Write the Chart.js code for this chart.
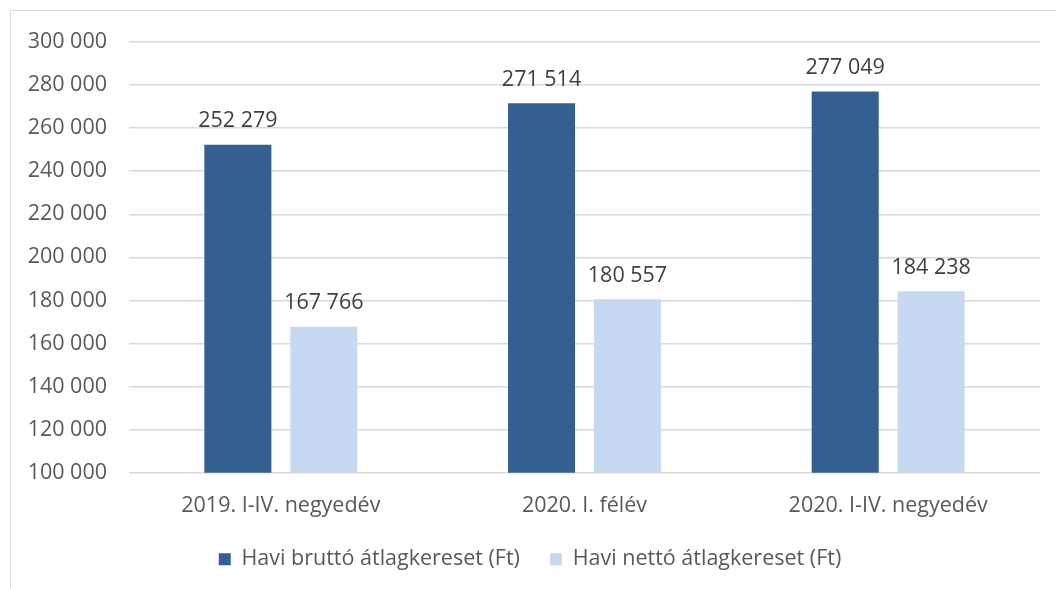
<!DOCTYPE html>
<html>
<head>
<meta charset="utf-8">
<script src="https://cdn.jsdelivr.net/npm/chart.js@4"></script>
<style>
  html, body { margin: 0; padding: 0; background: #fff; overflow: hidden; }
  #frame { position: absolute; left: 10px; top: 10px; width: 1100px; height: 640px; border: 1.5px solid #d9d9d9; }
  #wrap { position: absolute; left: 0; top: 0; width: 1056px; height: 589px; }
</style>
</head>
<body>
<div id="frame"></div>
<div id="wrap"><canvas id="chart" width="1056" height="589"></canvas></div>
<script>
// data
const categories = ['2019. I-IV. negyedév', '2020. I. félév', '2020. I-IV. negyedév'];
const bruttoValues = [252279, 271514, 277049];
const nettoValues = [167766, 180557, 184238];
const seriesNames = ['Havi bruttó átlagkereset (Ft)', 'Havi nettó átlagkereset (Ft)'];
const yMin = 100000;
const yMax = 300000;
const yStep = 20000;

const FONT = '"Open Sans", sans-serif';
const SIZE = 21.5;
const TEXT = '#595959';

function fmt(v) {
  return String(Math.round(v)).replace(/\B(?=(\d{3})+(?!\d))/g, ' ');
}

// value labels over bars
const valueLabels = {
  id: 'valueLabels',
  afterDatasetsDraw(chart) {
    const ctx = chart.ctx;
    ctx.save();
    ctx.font = SIZE + 'px ' + FONT;
    ctx.fillStyle = '#404040';
    ctx.textAlign = 'center';
    ctx.textBaseline = 'bottom';
    chart.data.datasets.forEach((ds, i) => {
      chart.getDatasetMeta(i).data.forEach((bar, j) => {
        ctx.fillText(fmt(ds.data[j]), bar.x, bar.y - 13);
      });
    });
    ctx.restore();
  }
};

new Chart(document.getElementById('chart').getContext('2d'), {
  type: 'bar',
  data: {
    labels: categories,
    datasets: [
      { label: seriesNames[0], data: bruttoValues, backgroundColor: '#365f91' },
      { label: seriesNames[1], data: nettoValues, backgroundColor: '#c6d9f1' }
    ]
  },
  options: {
    responsive: false,
    animation: false,
    devicePixelRatio: 1,
    datasets: {
      bar: { categoryPercentage: 0.566, barPercentage: 0.78 }
    },
    layout: { padding: { left: 20, right: 16, top: 42, bottom: 9 } },
    plugins: {
      legend: {
        position: 'bottom',
        labels: {
          boxWidth: 12,
          boxHeight: 12,
          padding: 30,
          color: TEXT,
          font: { family: FONT, size: SIZE }
        }
      },
      tooltip: { enabled: false }
    },
    scales: {
      y: {
        min: yMin,
        max: yMax,
        ticks: {
          stepSize: yStep,
          padding: 22,
          color: TEXT,
          font: { family: FONT, size: SIZE },
          callback: v => fmt(v)
        },
        grid: { color: '#d9d9d9', lineWidth: 1.5, drawTicks: false },
        border: { display: false },
        afterFit: scale => { scale.width = 109; }
      },
      x: {
        ticks: {
          padding: 20,
          color: TEXT,
          font: { family: FONT, size: SIZE }
        },
        grid: { display: false, drawTicks: false },
        border: { display: false },
        afterFit: scale => { scale.height -= 20; }
      }
    }
  },
  plugins: [valueLabels]
});
</script>
</body>
</html>
